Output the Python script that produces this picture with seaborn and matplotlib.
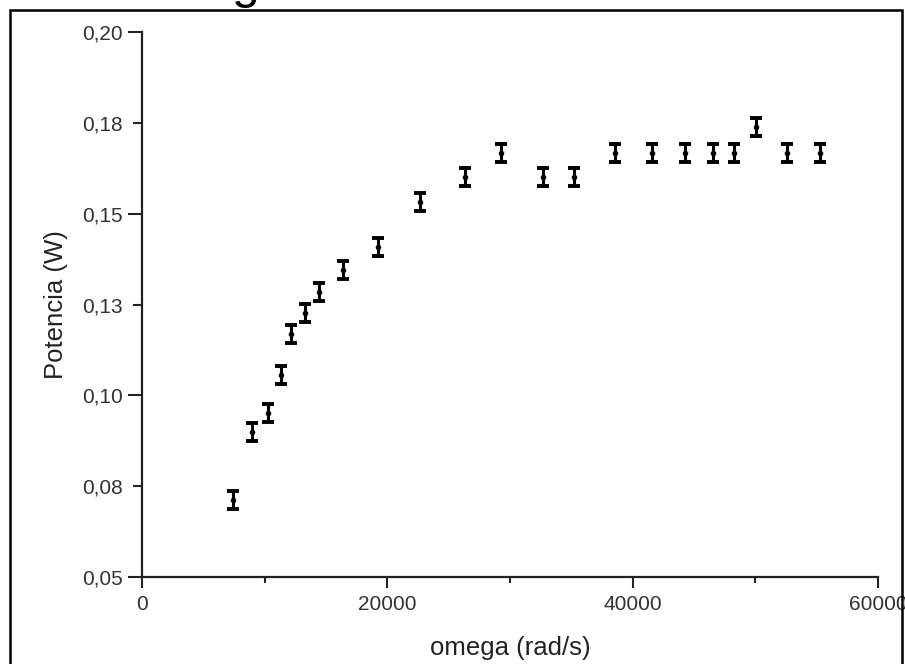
import matplotlib
matplotlib.use("Agg")
import matplotlib.pyplot as plt
from matplotlib.patches import Rectangle
from matplotlib.ticker import FixedLocator, FixedFormatter
import seaborn as sns
import pandas as pd

# Measured power versus angular velocity
omega = [7400, 8950, 10250, 11300, 12150, 13300, 14400, 16350, 19250, 22650,
         26300, 29250, 32650, 35250, 38550, 41550, 44250, 46550, 48300, 50050,
         52600, 55250]
potencia = [0.0712, 0.0899, 0.0952, 0.1056, 0.1169, 0.1227, 0.1285, 0.1345,
            0.1409, 0.1533, 0.1602, 0.1668, 0.1602, 0.1602, 0.1668, 0.1668,
            0.1668, 0.1668, 0.1668, 0.1739, 0.1668, 0.1668]
error = [0.0025] * len(omega)

x_major = [0, 20000, 40000, 60000]
x_major_labels = ["0", "20000", "40000", "60000"]
x_minor = [10000, 30000, 50000]
y_major = [0.05, 0.10, 0.15, 0.20]
y_major_labels = ["0,05", "0,10", "0,15", "0,20"]
y_minor = [0.075, 0.125, 0.175]
y_minor_labels = ["0,08", "0,13", "0,18"]

df = pd.DataFrame({"omega": omega, "potencia": potencia, "error": error})

sns.set_theme(style="white")
plt.rcParams["font.family"] = ["Liberation Sans", "DejaVu Sans"]

W, H, DPI = 905, 664, 100
fig = plt.figure(figsize=(W / DPI, H / DPI), dpi=DPI)
ax = fig.add_axes([142 / W, 1 - 577 / H, 736 / W, 545 / H])

ax.errorbar(df["omega"], df["potencia"], yerr=df["error"], fmt="none",
            ecolor="black", elinewidth=2.2, capsize=4, capthick=2.8, zorder=2)
sns.scatterplot(data=df, x="omega", y="potencia", ax=ax, color="black",
                s=16, marker="o", edgecolor="black", linewidth=0, zorder=3)

ax.set_xlim(0, 60000)
ax.set_ylim(0.05, 0.20)

ax.xaxis.set_major_locator(FixedLocator(x_major))
ax.xaxis.set_major_formatter(FixedFormatter(x_major_labels))
ax.xaxis.set_minor_locator(FixedLocator(x_minor))
ax.yaxis.set_major_locator(FixedLocator(y_major))
ax.yaxis.set_major_formatter(FixedFormatter(y_major_labels))
ax.yaxis.set_minor_locator(FixedLocator(y_minor))
ax.yaxis.set_minor_formatter(FixedFormatter(y_minor_labels))

for side in ("top", "right"):
    ax.spines[side].set_visible(False)
for side in ("left", "bottom"):
    ax.spines[side].set_color("#222222")
    ax.spines[side].set_linewidth(1.6)

ax.tick_params(axis="x", which="major", direction="out", length=8, width=1.5,
               color="#222222", labelsize=15, labelcolor="#333333", pad=5,
               bottom=True)
ax.tick_params(axis="x", which="minor", direction="out", length=4.5, width=1.5,
               color="#222222", bottom=True)
ax.tick_params(axis="y", which="major", direction="out", length=10, width=1.5,
               color="#222222", labelsize=15, labelcolor="#333333", pad=3.7,
               left=True)
ax.tick_params(axis="y", which="minor", direction="out", length=6.5, width=1.5,
               color="#222222", labelsize=15, labelcolor="#333333", pad=7.2,
               left=True)

ax.set_xlabel("omega (rad/s)", fontsize=18.5, color="#222222", labelpad=16)
ax.set_ylabel("Potencia (W)", fontsize=18.5, color="#222222", labelpad=10)

# Page frame around the figure and the trailing letter of the heading above it
fig.patches.append(Rectangle((10 / W, -0.05), 892 / W, 1.05 - 10 / H,
                             transform=fig.transFigure, fill=False,
                             edgecolor="black", linewidth=1.8, zorder=5))
fig.text(232 / W, 1 + 1.5 / H, "g", fontsize=36, color="black",
         ha="left", va="baseline")

fig.savefig("out.png", dpi=DPI, facecolor="white")
